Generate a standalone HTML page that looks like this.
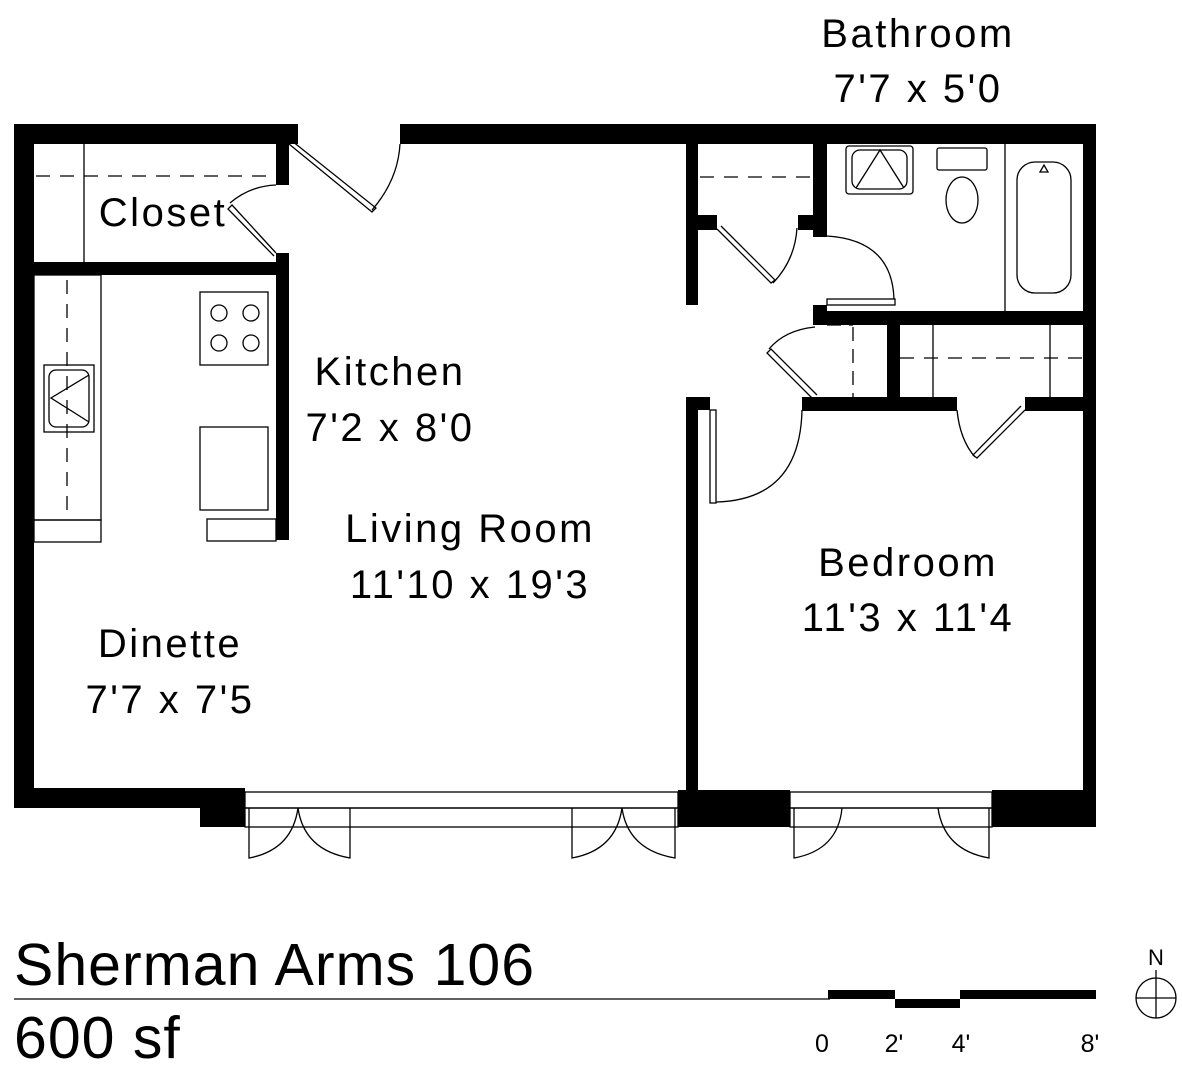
<!DOCTYPE html>
<html><head><meta charset="utf-8"><style>
html,body{margin:0;padding:0;background:#fff;width:1182px;height:1080px;overflow:hidden}
svg{display:block}
text{font-family:"Liberation Sans",sans-serif;fill:#000}
</style></head><body>
<svg width="1182" height="1080" viewBox="0 0 1182 1080" xmlns="http://www.w3.org/2000/svg">
<g fill="#000">
<rect x="14" y="124" width="284" height="20"/>
<rect x="400" y="124" width="696" height="20"/>
<rect x="14" y="124" width="20" height="684"/>
<rect x="1083" y="124" width="13" height="703"/>
<rect x="14" y="788" width="231" height="20"/>
<rect x="200" y="788" width="45" height="39"/>
<rect x="678" y="790" width="112" height="37"/>
<rect x="992" y="790" width="104" height="37"/>
<rect x="276" y="143" width="13" height="42"/>
<rect x="276" y="253" width="13" height="287"/>
<rect x="34" y="262" width="255" height="13"/>
<rect x="686" y="143" width="12" height="162"/>
<rect x="686" y="397" width="12" height="393"/>
<rect x="686" y="397" width="24" height="13"/>
<rect x="698" y="215" width="19" height="15"/>
<rect x="798" y="215" width="17" height="15"/>
<rect x="813" y="143" width="14" height="94"/>
<rect x="813" y="305" width="14" height="20"/>
<rect x="813" y="311" width="283" height="14"/>
<rect x="887" y="325" width="13" height="75"/>
<rect x="802" y="397" width="155" height="14"/>
<rect x="1025" y="397" width="71" height="14"/>
</g>
<g fill="none" stroke="#000" stroke-width="1.3">
<line x1="36" y1="176" x2="276" y2="176" stroke-dasharray="14,10"/>
<line x1="84" y1="144" x2="84" y2="262"/>
<path d="M289 144 L372 212 L376 208 L292 141"/>
<path d="M372 210 Q398 180 400 144"/>
<path d="M276 253 L232 205 L228 209 L274 256"/>
<path d="M230 203 Q250 186 276 185"/>
<rect x="34" y="275" width="67" height="245"/>
<line x1="67" y1="280" x2="67" y2="520" stroke-dasharray="14,10"/>
<rect x="44" y="365" width="50" height="67"/>
<rect x="49" y="370" width="40" height="57" rx="7"/>
<path d="M89 375 L51 398 L89 422"/>
<rect x="34" y="520" width="67" height="22"/>
<rect x="200" y="292" width="68" height="73"/>
<circle cx="219" cy="313" r="8"/><circle cx="251" cy="313" r="8"/>
<circle cx="219" cy="343" r="8"/><circle cx="251" cy="343" r="8"/>
<rect x="200" y="427" width="68" height="83"/>
<rect x="207" y="519" width="69" height="22"/>
<line x1="700" y1="177" x2="813" y2="177" stroke-dasharray="14,10"/>
<path d="M717 229 L771 283 L775 280 L721 226"/>
<path d="M773 283 Q795 260 797 228"/>
<rect x="846" y="146" width="67" height="48" rx="3"/>
<rect x="852" y="150" width="55" height="39" rx="8"/>
<path d="M856 188 L880 150 L904 188"/>
<rect x="937" y="148" width="50" height="22" rx="2"/>
<ellipse cx="962" cy="200" rx="16" ry="23"/>
<line x1="1005" y1="144" x2="1005" y2="311"/>
<rect x="1017" y="162" width="54" height="131" rx="18"/>
<path d="M1040 172 L1044 165 L1048 172 Z"/>
<rect x="827" y="299" width="68" height="6"/>
<path d="M827 236 Q892 240 894 299"/>
<path d="M827 325 L853 325 M853 327 V397" stroke-dasharray="14,8"/>
<path d="M817 395 L771 349 L767 353 L813 399"/>
<path d="M769 349 Q785 330 815 327"/>
<line x1="900" y1="358" x2="1083" y2="358" stroke-dasharray="14,10"/>
<line x1="933" y1="325" x2="933" y2="397"/>
<line x1="1050" y1="325" x2="1050" y2="397"/>
<rect x="710" y="410" width="6" height="93"/>
<path d="M716 502 Q800 500 802 410"/>
<path d="M1025 410 L977 458 L973 455 L1021 406"/>
<path d="M975 457 Q960 440 957 410"/>
<rect x="245" y="792" width="433" height="16"/>
<rect x="245" y="808" width="433" height="19"/>
<rect x="790" y="792" width="202" height="16"/>
<rect x="790" y="808" width="202" height="19"/>
<path d="M249 808 V858 Q292 850 298 808 Q304 850 350 858 V808"/>
<path d="M572 808 V858 Q616 850 622 808 Q628 850 675 858 V808"/>
<path d="M794 808 V858 Q838 850 842 808"/>
<path d="M938 808 Q944 850 989 858 V808"/>
</g>
<g font-size="40" text-anchor="middle" letter-spacing="2.5">
<text x="918" y="47">Bathroom</text>
<text x="918" y="102">7'7 x 5'0</text>
<text x="163" y="226">Closet</text>
<text x="390" y="385">Kitchen</text>
<text x="390" y="441">7'2 x 8'0</text>
<text x="470" y="542">Living Room</text>
<text x="470" y="598">11'10 x 19'3</text>
<text x="908" y="576">Bedroom</text>
<text x="908" y="631">11'3 x 11'4</text>
<text x="170" y="657">Dinette</text>
<text x="170" y="713">7'7 x 7'5</text>
</g>
<text x="14" y="985" font-size="59" letter-spacing="1">Sherman Arms 106</text>
<text x="14" y="1058" font-size="59" letter-spacing="1">600 sf</text>
<line x1="14" y1="999" x2="830" y2="999" stroke="#000" stroke-width="1.3"/>
<g fill="#000">
<rect x="828" y="990" width="67" height="9"/>
<rect x="895" y="999" width="65" height="9"/>
<rect x="960" y="990" width="136" height="9"/>
</g>
<g font-size="25" text-anchor="middle">
<text x="822" y="1052">0</text>
<text x="894" y="1052">2'</text>
<text x="961" y="1052">4'</text>
<text x="1090" y="1052">8'</text>
<text x="1156" y="965" font-size="22">N</text>
</g>
<circle cx="1156" cy="998" r="20" fill="none" stroke="#000" stroke-width="1.3"/>
<line x1="1136" y1="998" x2="1176" y2="998" stroke="#000" stroke-width="1.3"/>
<line x1="1156" y1="970" x2="1156" y2="1018" stroke="#000" stroke-width="1.3"/>
</svg>
</body></html>
